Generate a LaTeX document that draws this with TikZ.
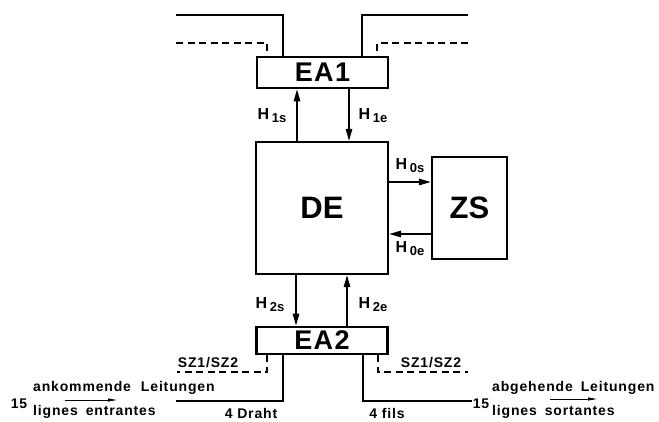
\documentclass[tikz,border=0pt]{standalone}
\usepackage{fontspec}
\setmainfont{Liberation Sans}
\newfontfamily\spaced[LetterSpace=6]{Liberation Sans}
\newfontfamily\bigspaced[LetterSpace=5]{Liberation Sans}
\usetikzlibrary{arrows.meta,calc}
\newcommand{\hsub}[1]{H\,\raisebox{-3pt}{\fontsize{13}{13}\selectfont #1}}

\begin{document}
\begin{tikzpicture}[x=1pt,y=-1pt,
  block/.style={draw,line width=2.4pt,inner sep=0pt,
    font=\bfseries\fontsize{31}{31}\selectfont},
  eabox/.style={block,line width=2.8pt,minimum width=131,
    font=\bigspaced\bfseries\fontsize{27}{27}\selectfont},
  wire/.style={line width=1.8pt},
  dwire/.style={line width=1.3pt,dash pattern=on 7pt off 4.5pt},
  sig/.style={line width=1.5pt,-{Triangle[length=12pt,width=6.5pt]}},
  thin/.style={line width=.9pt,-{Triangle[length=9pt,width=3pt]}},
  lbl/.style={font=\spaced\bfseries\fontsize{14}{14}\selectfont,inner sep=0pt},
  hlbl/.style={font=\bfseries\fontsize{16}{16}\selectfont,inner sep=0pt}
]
  \useasboundingbox (0,0) rectangle (659,421);

  % units
  \node[eabox,minimum height=31] (ea1) at (322.5,72.5) {EA1};
  \node[block,minimum width=132,minimum height=132] (de) at (322,208) {DE};
  \node[block,minimum width=75,minimum height=102] (zs) at (469.5,208) {ZS};
  \node[eabox,minimum height=27] (ea2) at (322,340.5) {EA2};

  % lines at the top
  \coordinate (inT) at (176,15);
  \coordinate (outT) at (468,15);
  \coordinate (szTL) at (176,43);
  \coordinate (szTR) at (468,43);
  \draw[wire] (inT) -| ([xshift=-39.5pt]ea1.north);
  \draw[wire] (outT) -| ([xshift=39.5pt]ea1.north);
  \draw[dwire] (szTL) -| ([xshift=-55.5pt]ea1.north);
  \draw[dwire] (szTR) -| ([xshift=54.5pt]ea1.north);

  % signals
  \draw[sig] ([xshift=-25pt]de.north) -- ([xshift=-25.5pt]ea1.south);
  \draw[sig] ([xshift=26.5pt]ea1.south) -- ([xshift=27pt]de.north);
  \draw[sig] ([yshift=26pt]de.east) -- ([yshift=26pt]zs.west);
  \draw[sig] ([yshift=-26pt]zs.west) -- ([yshift=-26pt]de.east);
  \draw[sig] ([xshift=-26pt]de.south) -- ([xshift=-26pt]ea2.north);
  \draw[sig] ([xshift=25pt]ea2.north) -- ([xshift=25pt]de.south);

  \node[hlbl] (h1s) at (272,116) {\hsub{1s}};
  \node[hlbl] (h1e) at (373,116) {\hsub{1e}};
  \node[hlbl] (h0s) at (410,166) {\hsub{0s}};
  \node[hlbl] (h0e) at (410,249) {\hsub{0e}};
  \node[hlbl] (h2s) at (270,305) {\hsub{2s}};
  \node[hlbl] (h2e) at (373,305) {\hsub{2e}};

  % lines at the bottom
  \coordinate (szBL) at (177,372);
  \coordinate (szBR) at (468,372);
  \coordinate (inB) at (176,401);
  \coordinate (outB) at (472,401);
  \draw[dwire] ([xshift=-55pt]ea2.south) |- (szBL);
  \draw[dwire] ([xshift=56pt]ea2.south) |- (szBR);
  \draw[wire] ([xshift=-39pt]ea2.south) |- (inB);
  \draw[wire] ([xshift=41pt]ea2.south) |- (outB);

  \node[lbl] (szl) at (208,363) {SZ1/SZ2};
  \node[lbl] (szr) at (431,363) {SZ1/SZ2};
  \node[lbl] (draht) at (251,413) {4 Draht};
  \node[lbl] (fils) at (387,413) {4 fils};

  \node[lbl] (n15a) at (19,404) {15};
  \node[lbl,anchor=west] (ank) at (33,388) {ankommende\hspace{10pt}Leitungen};
  \node[lbl,anchor=west] (ein) at (33,412) {lignes\hspace{8pt}entrantes};
  \coordinate (ia) at (65,400);
  \coordinate (ib) at (117,400);
  \draw[thin] (ia) -- (ib);

  \node[lbl] (n15b) at (481,404) {15};
  \node[lbl,anchor=west] (abg) at (492,388) {abgehende\hspace{8pt}Leitungen};
  \node[lbl,anchor=west] (aus) at (492,412) {lignes\hspace{8pt}sortantes};
  \coordinate (oa) at (550,399);
  \coordinate (ob) at (597,399);
  \draw[thin] (oa) -- (ob);
\end{tikzpicture}
\end{document}
